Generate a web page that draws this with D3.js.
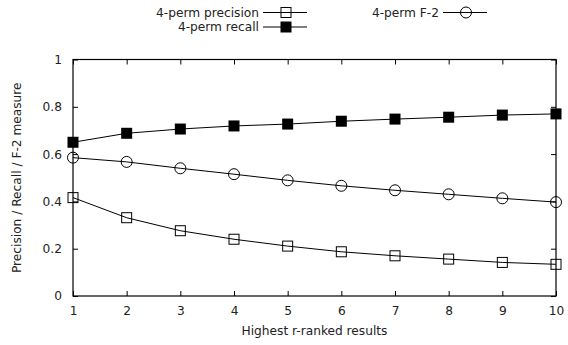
<!DOCTYPE html>
<html>
<head>
<meta charset="utf-8">
<script src="https://cdn.jsdelivr.net/npm/d3@7/dist/d3.min.js"></script>
<style>
  body { margin: 0; background: #fff; }
  svg { display: block; font-family: "DejaVu Sans", sans-serif; }
</style>
</head>
<body>
<div id="chart"></div>
<script>
// data
const ranks = [1, 2, 3, 4, 5, 6, 7, 8, 9, 10];
const precision = [0.416, 0.331, 0.276, 0.240, 0.211, 0.187, 0.170, 0.156, 0.142, 0.134];
const recall = [0.650, 0.688, 0.706, 0.719, 0.727, 0.739, 0.748, 0.756, 0.765, 0.770];
const f2 = [0.585, 0.567, 0.540, 0.515, 0.489, 0.466, 0.447, 0.430, 0.413, 0.397];
const yTicks = [0, 0.2, 0.4, 0.6, 0.8, 1];
const yTickLabels = ["0", "0.2", "0.4", "0.6", "0.8", "1"];

const W = 568, H = 345;
const margin = {top: 59.5, right: 12, bottom: 49, left: 73};
const width = W - margin.left - margin.right,
      height = H - margin.top - margin.bottom;
const fs = 12.2;

const svg = d3.select("#chart").append("svg")
  .attr("width", W).attr("height", H);

const g = svg.append("g")
  .attr("transform", `translate(${margin.left}, ${margin.top})`);

const x = d3.scaleLinear().domain([1, 10]).range([0, width]);
const y = d3.scaleLinear().domain([0, 1]).range([height, 0]);

// axes, ticks pointing inward, mirrored on top and right
g.append("g")
  .attr("transform", `translate(0, ${height})`)
  .call(d3.axisBottom(x).tickValues(ranks).tickSize(-5).tickPadding(10).tickFormat(d3.format("d")))
  .call(a => a.select(".domain").remove());
g.append("g")
  .call(d3.axisTop(x).tickValues(ranks).tickSize(-5).tickFormat(""))
  .call(a => a.select(".domain").remove());
g.append("g")
  .call(d3.axisLeft(y).tickValues(yTicks).tickSize(-5).tickPadding(11)
    .tickFormat((d, i) => yTickLabels[i]))
  .call(a => a.select(".domain").remove());
g.append("g")
  .attr("transform", `translate(${width}, 0)`)
  .call(d3.axisRight(y).tickValues(yTicks).tickSize(-5).tickFormat(""))
  .call(a => a.select(".domain").remove());

g.selectAll(".tick line").attr("stroke", "#000");
g.selectAll(".tick text").attr("font-size", fs).attr("fill", "#222")
  .attr("font-family", "DejaVu Sans, sans-serif");

g.append("rect")
  .attr("width", width).attr("height", height)
  .attr("fill", "none").attr("stroke", "#000").attr("stroke-width", 1.2);

// axis titles
svg.append("text")
  .attr("x", margin.left + width / 2).attr("y", 335)
  .attr("text-anchor", "middle").attr("font-size", fs).attr("fill", "#222")
  .text("Highest r-ranked results");
svg.append("text")
  .attr("transform", `translate(21, ${margin.top + height / 2}) rotate(-90)`)
  .attr("text-anchor", "middle").attr("font-size", fs).attr("fill", "#222")
  .text("Precision / Recall / F-2 measure");

const series = [
  {name: "4-perm precision", values: precision, marker: "openSquare"},
  {name: "4-perm recall", values: recall, marker: "filledSquare"},
  {name: "4-perm F-2", values: f2, marker: "circle"}
];

function drawMarker(sel, type) {
  if (type === "circle") {
    sel.append("circle").attr("r", 5.5)
      .attr("fill", "none").attr("stroke", "#000").attr("stroke-width", 1);
  } else if (type === "openSquare") {
    sel.append("rect").attr("x", -5).attr("y", -5).attr("width", 10).attr("height", 10)
      .attr("fill", "none").attr("stroke", "#000").attr("stroke-width", 1);
  } else {
    sel.append("rect").attr("x", -5.5).attr("y", -5.5).attr("width", 11).attr("height", 11)
      .attr("fill", "#000");
  }
}

const line = d3.line().x((d, i) => x(ranks[i])).y(d => y(d));

series.forEach(s => {
  g.append("path").datum(s.values)
    .attr("d", line).attr("fill", "none")
    .attr("stroke", "#000").attr("stroke-width", 1);
  g.selectAll(null).data(s.values).enter().append("g")
    .attr("transform", (d, i) => `translate(${x(ranks[i])}, ${y(d)})`)
    .each(function() { drawMarker(d3.select(this), s.marker); });
});

// legend
const legendPos = [
  {textEnd: 259, y: 12.5},
  {textEnd: 259, y: 27},
  {textEnd: 439, y: 12.5}
];
series.forEach((s, i) => {
  const p = legendPos[i];
  const lg = svg.append("g");
  lg.append("text")
    .attr("x", p.textEnd).attr("y", p.y).attr("dy", "0.35em")
    .attr("text-anchor", "end").attr("font-size", fs).attr("fill", "#222")
    .text(s.name);
  lg.append("line")
    .attr("x1", p.textEnd + 4).attr("x2", p.textEnd + 48)
    .attr("y1", p.y).attr("y2", p.y)
    .attr("stroke", "#000").attr("stroke-width", 1);
  const m = lg.append("g").attr("transform", `translate(${p.textEnd + 27}, ${p.y})`);
  drawMarker(m, s.marker);
});
</script>
</body>
</html>
